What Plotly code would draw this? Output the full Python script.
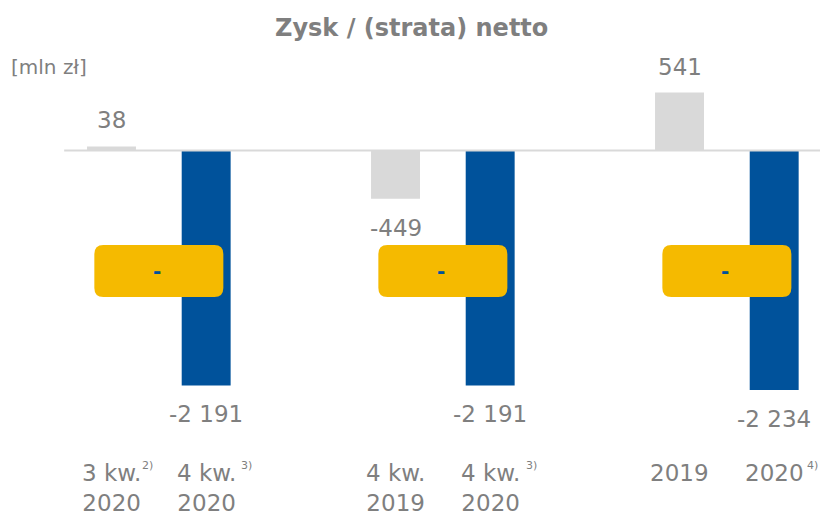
import plotly.graph_objects as go

# ---- data ----
prev_labels = ["3 kw.<br>2020", "4 kw.<br>2019", "2019"]
prev_values = [38, -449, 541]
curr_labels = ["4 kw.<br>2020", "4 kw.<br>2020", "2020"]
curr_values = [-2191, -2191, -2234]
prev_notes = ["2)", "", ""]
curr_notes = ["3)", "3)", "4)"]
change_labels = ["-", "-", "-"]

GRAY = "#D9D9D9"
BLUE = "#00529B"
YELLOW = "#F5BA00"
TXT = "#7F7F7F"
FONT = "DejaVu Sans, Arial, sans-serif"

prev_x = [3 * g for g in range(len(prev_values))]
curr_x = [3 * g + 1 for g in range(len(curr_values))]
group_x = [3 * g + 0.5 for g in range(len(prev_values))]

W, H = 820, 515
px_per_x = 94.67
px_per_y = 0.1072
base_px = 150.5
x0_px = 111.5

xr = [-x0_px / px_per_x, (W - x0_px) / px_per_x]
yr = [-(H - base_px) / px_per_y, base_px / px_per_y]

def fmt(v):
    return f"{v:,}".replace(",", " ")

fig = go.Figure()
fig.add_trace(go.Bar(x=prev_x, y=prev_values, width=0.517, marker=dict(color=GRAY, line=dict(width=0)),
                     hoverinfo="skip", showlegend=False))
fig.add_trace(go.Bar(x=curr_x, y=curr_values, width=0.517, marker=dict(color=BLUE, line=dict(width=0)),
                     hoverinfo="skip", showlegend=False))

ann = []
shapes = []
# baseline
shapes.append(dict(type="line", xref="x", yref="y", x0=-0.5, x1=xr[1], y0=0, y1=0,
                   line=dict(color=GRAY, width=2), layer="above"))

# value labels
for xs, vs in ((prev_x, prev_values), (curr_x, curr_values)):
    for x, v in zip(xs, vs):
        ann.append(dict(x=x, y=v, xref="x", yref="y", text=fmt(v), showarrow=False,
                        yanchor="middle", yshift=26 if v >= 0 else -29,
                        font=dict(family=FONT, size=23, color=TXT)))

# category labels
for xs, labs in ((prev_x, prev_labels), (curr_x, curr_labels)):
    for x, lab in zip(xs, labs):
        ann.append(dict(x=x, y=1 - 474 / H, xref="x", yref="paper", text=lab, showarrow=False,
                        yanchor="top", yshift=16, align="center",
                        font=dict(family=FONT, size=23, color=TXT)))

# footnote superscripts
note_shift = {0: 36, 1: 40, 4: 41, 7: 38}
for xs, notes in ((prev_x, prev_notes), (curr_x, curr_notes)):
    for x, n in zip(xs, notes):
        if n:
            ann.append(dict(x=x, y=1 - 465 / H, xref="x", yref="paper", text=n, showarrow=False,
                            xshift=note_shift.get(x, 38), yanchor="middle",
                            font=dict(family=FONT, size=11, color=TXT)))

# yellow rounded boxes with change labels
bw = 129 / px_per_x
bh = 52 / px_per_y
rx = 9 / px_per_x
ry = 9 / px_per_y
cy = -(271 - base_px) / px_per_y
for gx, lab in zip(group_x, change_labels):
    l, r = gx - bw / 2, gx + bw / 2
    b, t = cy - bh / 2, cy + bh / 2
    path = (f"M {l+rx},{b} L {r-rx},{b} Q {r},{b} {r},{b+ry} L {r},{t-ry} Q {r},{t} {r-rx},{t} "
            f"L {l+rx},{t} Q {l},{t} {l},{t-ry} L {l},{b+ry} Q {l},{b} {l+rx},{b} Z")
    shapes.append(dict(type="path", xref="x", yref="y", path=path, fillcolor=YELLOW,
                       line=dict(width=0), layer="above"))
    ann.append(dict(x=gx, y=cy, xref="x", yref="y", text=f"<b>{lab}</b>", showarrow=False,
                    xshift=-2, font=dict(family=FONT, size=20, color=BLUE)))

# title and unit
ann.append(dict(x=0.5, y=1 - 28 / H, xref="paper", yref="paper", text="<b>Zysk / (strata) netto</b>",
                showarrow=False, yanchor="middle", xshift=1, font=dict(family=FONT, size=24, color=TXT)))
ann.append(dict(x=9 / W, y=1 - 67 / H, xref="paper", yref="paper", text="[mln zł]", showarrow=False,
                xanchor="left", yanchor="middle", font=dict(family=FONT, size=20, color=TXT)))

fig.update_layout(
    width=W, height=H,
    margin=dict(l=0, r=0, t=0, b=0),
    paper_bgcolor="white", plot_bgcolor="white",
    xaxis=dict(range=xr, visible=False, fixedrange=True),
    yaxis=dict(range=yr, visible=False, fixedrange=True, zeroline=False),
    annotations=ann, shapes=shapes,
    barmode="overlay",
)

fig.write_html("out.html", config={"displayModeBar": False},
               post_script="document.body.style.margin='0';document.body.style.overflow='hidden';")
